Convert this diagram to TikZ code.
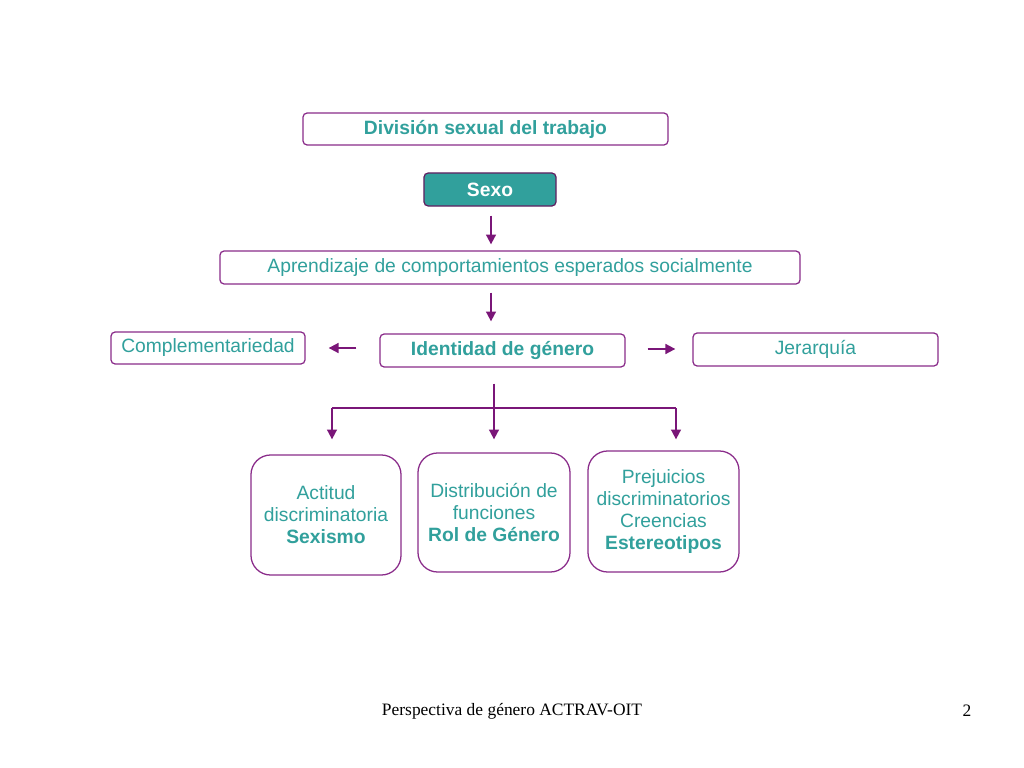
\documentclass[tikz,border=0pt]{standalone}
\usepackage{fontspec}
\setmainfont{Liberation Sans}
\newfontfamily\piefont{Liberation Serif}
\usetikzlibrary{arrows.meta}

\definecolor{verdeazul}{HTML}{31A09C}
\definecolor{morado}{HTML}{8A2C8A}
\definecolor{flecha}{HTML}{7A1678}

\tikzset{
  caja/.style={draw=morado,line width=0.9pt,rounded corners=3pt,inner sep=0pt,
    text=verdeazul,font=\fontsize{13.7}{15.6}\selectfont},
  cajagrande/.style={caja,rounded corners=14pt,align=center,
    minimum width=3.78cm,minimum height=3cm},
  flechita/.style={->,flecha,line width=1.3pt}
}

\begin{document}
\begin{tikzpicture}[x=0.025cm,y=-0.025cm,>={Triangle[width=7pt,length=7pt]}]
  \useasboundingbox[fill=white] (0,0) rectangle (1024,768);

  % cajas de arriba
  \node[caja,minimum width=9.125cm,minimum height=0.8cm] (division) at (485.5,129)
    {\bfseries División sexual del trabajo};
  \node[caja,draw=morado!70!black,fill=verdeazul,text=white,minimum width=3.3cm,
    minimum height=0.825cm] (sexo) at (490,189.5) {\bfseries Sexo};
  \node[caja,minimum width=14.5cm,minimum height=0.825cm] (aprendizaje) at (510,267.5)
    {Aprendizaje de comportamientos esperados socialmente};

  \node[caja,minimum width=6.125cm,minimum height=0.825cm] (identidad) at (502.5,350.5)
    {\bfseries Identidad de género};
  \node[caja,minimum width=4.85cm,minimum height=0.8cm] (complementariedad) at (208,348)
    {Complementariedad};
  \node[caja,minimum width=6.125cm,minimum height=0.825cm] (jerarquia) at (815.5,349.5)
    {Jerarquía};

  % cajas de abajo
  \node[cajagrande,minimum width=3.75cm] (sexismo) at (326,515)
    {Actitud\\discriminatoria\\\textbf{Sexismo}};
  \node[cajagrande,minimum width=3.8cm,minimum height=2.975cm] (rol) at (494,512.5)
    {Distribución de\\funciones\\\textbf{Rol de Género}};
  \node[cajagrande,minimum width=3.775cm,minimum height=3.025cm] (estereotipos) at (663.5,511.5)
    {Prejuicios\\discriminatorios\\Creencias\\\textbf{Estereotipos}};

  % flechas
  \draw[flechita,shorten <=0.225cm,shorten >=0.15cm]
    (sexo.south -| 491,0) -- (aprendizaje.north -| 491,0);
  \draw[flechita,shorten <=0.2cm,shorten >=0.3cm]
    (aprendizaje.south -| 491,0) -- (identidad.north -| 491,0);
  \draw[flechita,shorten <=0.575cm,shorten >=0.575cm]
    (identidad.west |- complementariedad) -- (complementariedad.east);
  \draw[flechita,shorten <=0.55cm,shorten >=0.425cm]
    (identidad.east |- 0,349) -- (jerarquia.west |- 0,349);

  \coordinate (ramaizq) at (332,408);
  \coordinate (ramader) at (676,408);
  \draw[flecha,line width=1.3pt] (ramaizq) -- (ramader);
  \draw[flechita,shorten <=0.4cm,shorten >=0.325cm] (rol.north |- identidad.south) -- (rol.north);
  \draw[flechita,shorten >=0.375cm] (ramaizq) -- (ramaizq |- sexismo.north);
  \draw[flechita,shorten >=0.275cm] (ramader) -- (ramader |- estereotipos.north);

  % pie de pagina
  \node[font=\piefont\fontsize{12.4}{15}\selectfont] (pie) at (512,711)
    {Perspectiva de género ACTRAV-OIT};
  \node[font=\piefont\fontsize{12.4}{15}\selectfont] (pagina) at (967,711) {2};
\end{tikzpicture}
\end{document}
